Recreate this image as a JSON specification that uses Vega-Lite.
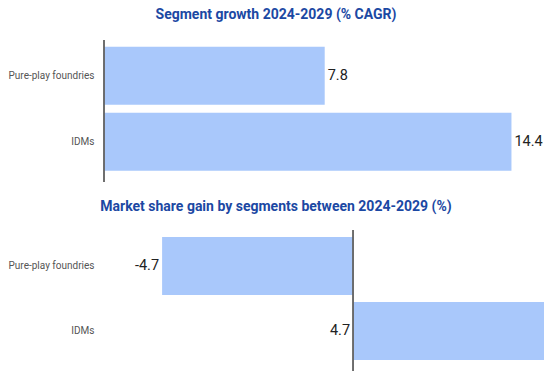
{
  "$schema": "https://vega.github.io/schema/vega-lite/v6.json",
  "padding": {"left": 8, "top": 8, "right": 0, "bottom": 0},
  "autosize": {"type": "pad"},
  "background": "white",
  "config": {"view": {"stroke": null}, "font": "Roboto", "concat": {"spacing": 17}},
  "vconcat": [
    {
      "title": {"text": "Segment growth 2024-2029 (% CAGR)", "fontSize": 14, "fontWeight": "bold", "color": "#1b48a3", "anchor": "middle", "frame": "bounds", "offset": 17},
      "width": 440,
      "height": 142,
      "data": {"values": [{"segment": "Pure-play foundries", "value": 7.8}, {"segment": "IDMs", "value": 14.4}]},
      "layer": [
        {
          "mark": {"type": "bar", "color": "#a9c8fb"},
          "encoding": {
            "y": {"field": "segment", "type": "nominal", "sort": null, "title": null, "scale": {"paddingInner": 0.121, "paddingOuter": 0.136, "align": 0.37}, "axis": {"domain": false, "ticks": false, "labelFontSize": 10, "labelColor": "#555", "labelPadding": 10}},
            "x": {"field": "value", "type": "quantitative", "scale": {"domain": [0, 15.55], "nice": false}, "axis": null}
          }
        },
        {
          "mark": {"type": "text", "align": "left", "dx": 3, "fontSize": 14.5, "color": "#222"},
          "encoding": {
            "y": {"field": "segment", "type": "nominal", "sort": null},
            "x": {"field": "value", "type": "quantitative"},
            "text": {"field": "value", "type": "nominal"}
          }
        },
        {
          "mark": {"type": "rule", "color": "#666", "strokeWidth": 1.5},
          "encoding": {"x": {"datum": 0, "type": "quantitative"}}
        }
      ]
    },
    {
      "title": {"text": "Market share gain by segments between 2024-2029 (%)", "fontSize": 14, "fontWeight": "bold", "color": "#1b48a3", "anchor": "middle", "frame": "bounds", "offset": 15},
      "width": 440,
      "height": 141,
      "data": {"values": [{"segment": "Pure-play foundries", "value": -4.7}, {"segment": "IDMs", "value": 4.7}]},
      "transform": [{"calculate": "min(datum.value, 0)", "as": "labelAnchor"}],
      "layer": [
        {
          "mark": {"type": "bar", "color": "#a9c8fb"},
          "encoding": {
            "y": {"field": "segment", "type": "nominal", "sort": null, "title": null, "scale": {"paddingInner": 0.11, "paddingOuter": 0.14, "align": 0.39}, "axis": {"domain": false, "ticks": false, "labelFontSize": 10, "labelColor": "#555", "labelPadding": 10}},
            "x": {"field": "value", "type": "quantitative", "scale": {"domain": [-6.13, 4.7], "nice": false}, "axis": null}
          }
        },
        {
          "mark": {"type": "text", "align": "right", "dx": -3, "fontSize": 14.5, "color": "#222"},
          "encoding": {
            "y": {"field": "segment", "type": "nominal", "sort": null},
            "x": {"field": "labelAnchor", "type": "quantitative"},
            "text": {"field": "value", "type": "nominal"}
          }
        },
        {
          "mark": {"type": "rule", "color": "#666", "strokeWidth": 1.5},
          "encoding": {"x": {"datum": 0, "type": "quantitative"}}
        }
      ]
    }
  ]
}
